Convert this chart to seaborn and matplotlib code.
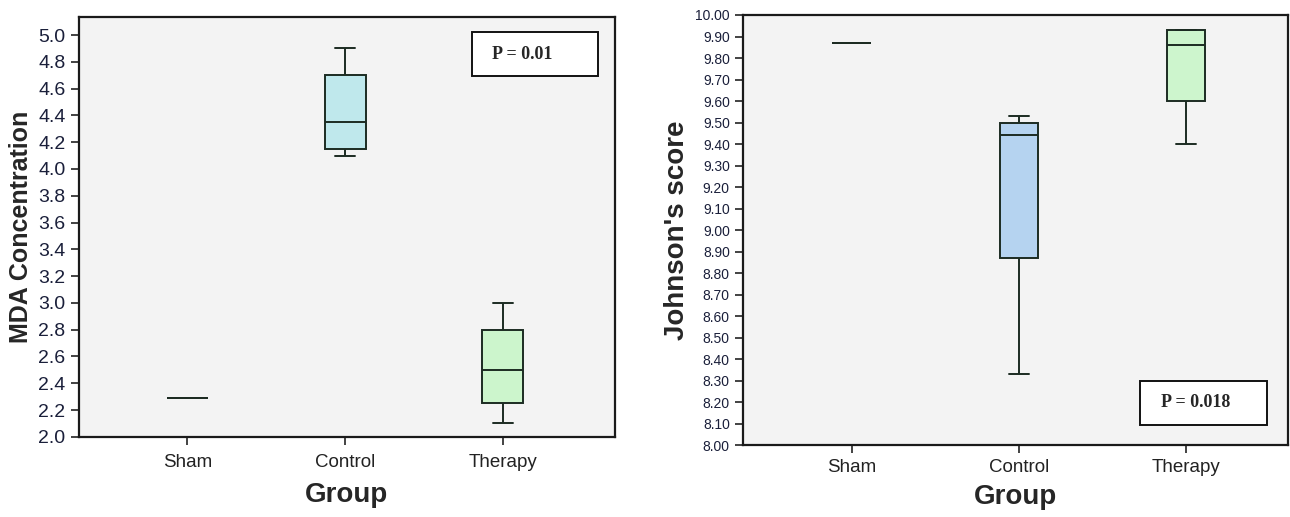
import pandas as pd
import matplotlib.pyplot as plt
import matplotlib.patches as mpatches
import seaborn as sns

# groups and read-off box summaries (min, q1, median, q3, max)
groups = ["Sham", "Control", "Therapy"]

mda_sham = [2.29, 2.29, 2.29, 2.29, 2.29]
mda_control = [4.10, 4.15, 4.35, 4.70, 4.90]
mda_therapy = [2.10, 2.25, 2.50, 2.80, 3.00]

johnson_sham = [9.87, 9.87, 9.87, 9.87, 9.87]
johnson_control = [8.33, 8.87, 9.44, 9.50, 9.53]
johnson_therapy = [9.40, 9.60, 9.86, 9.93, 9.93]

mda_ticks = [2.0, 2.2, 2.4, 2.6, 2.8, 3.0, 3.2, 3.4, 3.6, 3.8, 4.0, 4.2, 4.4, 4.6, 4.8, 5.0]
johnson_ticks = [8.0, 8.1, 8.2, 8.3, 8.4, 8.5, 8.6, 8.7, 8.8, 8.9, 9.0,
                 9.1, 9.2, 9.3, 9.4, 9.5, 9.6, 9.7, 9.8, 9.9, 10.0]

mda_p = "P = 0.01"
johnson_p = "P = 0.018"


def make_df(sham, control, therapy):
    rows = []
    for g, vals in zip(groups, [sham, control, therapy]):
        for v in vals:
            rows.append({"Group": g, "value": v})
    return pd.DataFrame(rows)


sns.set_style("white")
plt.rcParams['font.family'] = ['Liberation Sans', 'DejaVu Sans']

edge = "#1c2b22"
bg = "#f3f3f3"

fig = plt.figure(figsize=(12.9, 5.17), dpi=100)
ax1 = fig.add_axes([0.061, 0.155, 0.4155, 0.812])
ax2 = fig.add_axes([0.576, 0.139, 0.4225, 0.832])


def draw_panel(ax, df, colors, width, ylim, yticks, ylabel, fmt, ytick_size,
               ylabel_size, pbox, ptext, xlim, xpad, xlabelpad):
    ax.set_facecolor(bg)
    sns.boxplot(data=df, x="Group", y="value", hue="Group", order=groups,
                palette=colors, saturation=1, legend=False, width=width,
                whis=(0, 100), linecolor=edge, linewidth=1.4,
                showfliers=False, ax=ax)
    ax.set_ylim(*ylim)
    ax.set_xlim(*xlim)
    ax.set_yticks(yticks)
    ax.set_yticklabels([fmt.format(t) for t in yticks],
                       fontsize=ytick_size, color="#1a1f3a")
    ax.set_xticks(range(len(groups)))
    ax.set_xticklabels(groups, fontsize=13.5, color="#222222")
    ax.tick_params(axis="both", direction="out", length=6, width=1.2,
                   color="#222222", left=True, bottom=True)
    ax.tick_params(axis="x", pad=xpad)
    ax.set_xlabel("Group", fontsize=20, fontweight="bold",
                  labelpad=xlabelpad)
    ax.set_ylabel(ylabel, fontsize=ylabel_size,
                  fontweight="bold", labelpad=4)
    for s in ax.spines.values():
        s.set_visible(True)
        s.set_color("#1a1a1a")
        s.set_linewidth(1.6)

    x0, y0, w, h, tx = pbox
    ax.add_patch(mpatches.Rectangle((x0, y0), w, h, transform=ax.transAxes,
                                    facecolor="white", edgecolor="#111111",
                                    linewidth=1.4, zorder=5))
    ax.text(tx, y0 + h / 2, ptext, transform=ax.transAxes, ha="left",
            va="center", family=['Liberation Serif', 'DejaVu Serif'],
            fontweight="bold", fontsize=13, zorder=6)


draw_panel(ax1, make_df(mda_sham, mda_control, mda_therapy),
           {"Sham": "#dcdcdc", "Control": "#bfe8ec", "Therapy": "#ccf5cc"},
           0.26, (2.0, 5.134), mda_ticks, "MDA Concentration", "{:.1f}",
           14, 18, (0.733, 0.860, 0.235, 0.104, 0.772), mda_p, (-0.69, 2.71),
           6, 8)

draw_panel(ax2, make_df(johnson_sham, johnson_control, johnson_therapy),
           {"Sham": "#dcdcdc", "Control": "#b5d3f0", "Therapy": "#cdf5cd"},
           0.23, (8.0, 10.0), johnson_ticks, "Johnson's score", "{:.2f}",
           10, 20, (0.728, 0.047, 0.233, 0.102, 0.767), johnson_p, (-0.65, 2.61),
           4, 6)

fig.savefig("out.png", dpi=100, facecolor="white")
